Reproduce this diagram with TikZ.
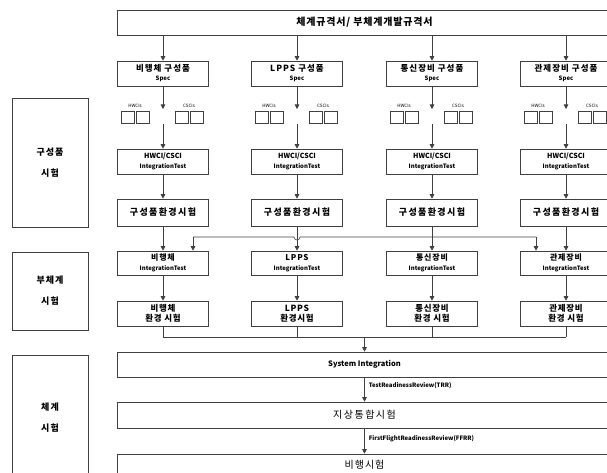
\documentclass[tikz,border=0pt]{standalone}
\usepackage{fontspec}
\setmainfont{Noto Sans CJK KR}
\usetikzlibrary{arrows.meta}
\newcommand{\lsp}[1]{\addfontfeatures{LetterSpace=#1}}
\begin{document}
\begin{tikzpicture}[x=1pt,y=-1pt,
  ln/.style={draw=black!75,line width=0.6pt},
  arr/.style={ln,-{Triangle[width=4.5pt,length=4.5pt]}},
  bx/.style={draw=black!75,line width=0.6pt,inner sep=0pt,align=center,
     minimum width=91pt,minimum height=25pt},
  wide/.style={draw=black!75,line width=0.6pt,inner sep=0pt,align=center,
     minimum width=495pt},
  lbox/.style={draw=black!75,line width=0.6pt,inner sep=0pt,align=center,
     minimum width=76pt,font=\bfseries\fontsize{9}{21}\selectfont\lsp{12}},
  sq/.style={draw=black!75,line width=0.6pt,inner sep=0pt,
     minimum width=13pt,minimum height=12pt},
  tiny/.style={inner sep=0pt,font=\fontsize{4.5}{5}\selectfont},
  lbl/.style={inner sep=0pt,anchor=west,font=\bfseries\fontsize{6}{7}\selectfont}
]
\useasboundingbox (0,0) rectangle (607,473);
\clip (0,0) rectangle (607,473);

% left phase boxes
\node[lbox,minimum height=129pt] (L1) at (50,162.5) {구성품\\시험};
\node[lbox,minimum height=78pt]  (L2) at (50,291) {부체계\\시험};
\node[lbox,minimum height=125pt] (L3) at (50,417.5) {체계\\시험};

% top box
\node[wide,minimum height=25pt,font=\bfseries\fontsize{10}{11}\selectfont\lsp{8}] (top) at (364.5,22.5) {체계규격서/ 부체계개발규격서};

% columns
\foreach \c/\i/\sp/\it/\ev in {
  163/1/비행체 구성품/비행체/비행체\\환경 시험,
  297/2/LPPS 구성품/LPPS/LPPS\\환경시험,
  432/3/통신장비 구성품/통신장비/통신장비\\환경 시험,
  566/4/관제장비 구성품/관제장비/관제장비\\환경 시험}{
  \node[bx,font=\bfseries\fontsize{6}{9}\selectfont] (s\i) at (\c,73.5)
     {{\fontsize{8.5}{9}\selectfont\lsp{12}\sp}\\Spec};
  \node[tiny] (hl\i) at (\c-28,106) {HWCIs};
  \node[tiny] (cl\i) at (\c+26,106) {CSCIs};
  \node[sq] (qa\i) at (\c-35.5,117) {};
  \node[sq] (qb\i) at (\c-20.5,117) {};
  \node[sq] (qc\i) at (\c+18.5,117) {};
  \node[sq] (qd\i) at (\c+33.5,117) {};
  \coordinate (t\i) at (\c,109);
  \coordinate (u\i) at (\c,124);
  \node[bx,font=\bfseries\fontsize{6}{10.5}\selectfont] (h\i) at (\c,161.5)
     {{\fontsize{7}{10.5}\selectfont HWCI/CSCI}\\IntegrationTest};
  \node[bx,minimum height=27pt,font=\bfseries\fontsize{9}{10}\selectfont\lsp{15}] (e\i) at (\c,212.5) {구성품환경시험};
  \node[bx,minimum height=24pt,font=\bfseries\fontsize{6}{9.5}\selectfont] (i\i) at (\c,263)
     {{\fontsize{8}{9.5}\selectfont\lsp{10}\it}\\IntegrationTest};
  \node[bx,font=\bfseries\fontsize{8.5}{10}\selectfont\lsp{8}] (v\i) at (\c,313.5) {\ev};
  \draw[arr] (top.south -| s\i.north) -- (s\i.north);
  \draw[arr] (s\i.south) -- (t\i);
  \draw[arr] (u\i) -- (h\i.north);
  \draw[arr] (h\i.south) -- (e\i.north);
  \draw[arr] (e\i.south) -- (i\i.north);
  \draw[arr] (i\i.south) -- (v\i.north);
}

% crossing bus between component and subsystem rows
\coordinate (bA) at (193,237);
\coordinate (bB) at (536,237);
\draw[ln] (bA) -- ([xshift=-3pt]e2.south |- bA) arc[start angle=180,end angle=360,radius=3pt] -- (bB);
\draw[arr] (bA) -- (bA |- i1.north);
\draw[arr] (bB) -- (bB |- i4.north);

% lower system boxes
\node[wide,minimum height=25pt,font=\bfseries\fontsize{7.5}{9}\selectfont] (si) at (364.5,364.5) {System Integration};
\node[wide,minimum height=26pt,font=\fontsize{10}{11}\selectfont\lsp{15}] (gs) at (364.5,415) {지상통합시험};
\node[wide,minimum height=22pt,font=\fontsize{10}{11}\selectfont\lsp{10}] (ft) at (364.5,465) {비행시험};

% subsystem collection bus
\coordinate (b2) at (364.5,337);
\foreach \i in {1,2,3,4}{\draw[ln] (v\i.south) -- (v\i.south |- b2);}
\draw[ln] (v1.south |- b2) -- (v4.south |- b2);
\draw[arr] (b2) -- (si.north);
\draw[arr] (si.south) -- (gs.north) node[lbl,pos=0.35,xshift=4pt] {TestReadinessReview(TRR)};
\draw[arr] (gs.south) -- (ft.north) node[lbl,pos=0.4,xshift=4pt] {FirstFlightReadinessReview(FFRR)};
\end{tikzpicture}
\end{document}
